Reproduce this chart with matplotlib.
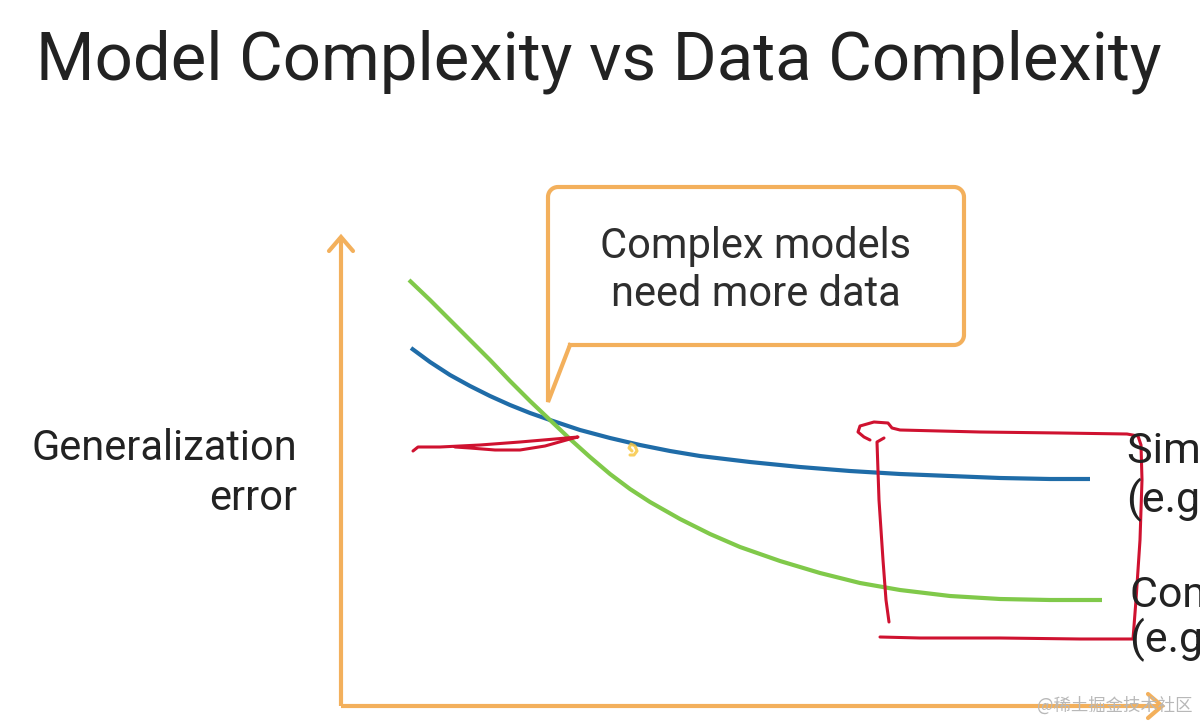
import numpy as np
import matplotlib
matplotlib.use("Agg")
import matplotlib.pyplot as plt

# ---- data (pixel-like units, y grows downward) ----
blue_x = [411, 430, 450, 470, 490, 510, 530, 550, 580, 610, 640, 670, 700, 750, 800, 850, 900, 950, 1000, 1050, 1090]
blue_y = [348, 362, 375, 386, 396, 405, 413, 420, 430, 438, 445, 451, 456, 462, 467, 471, 474, 476, 478, 479, 479]
green_x = [409, 430, 450, 470, 490, 510, 530, 550, 570, 590, 610, 630, 650, 680, 710, 740, 780, 820, 860, 900, 950, 1000, 1050, 1102]
green_y = [280, 300, 320, 340, 360, 381, 401, 420, 439, 457, 474, 489, 502, 519, 534, 547, 561, 573, 583, 590, 596, 599, 600, 600]

red_stroke_x = [413, 418, 440, 480, 520, 555, 578, 570, 545, 520, 495, 470, 455]
red_stroke_y = [451, 447, 447, 445, 442, 439, 437, 439, 446, 450, 450, 448, 447]
red_box_x = [880, 920, 1000, 1080, 1133, 1136, 1140, 1142, 1141, 1138, 1127, 1060, 980, 900, 892, 888, 874, 860, 858, 864, 870]
red_box_y = [637, 638, 638, 639, 639, 600, 540, 480, 445, 436, 434, 433, 432, 430, 428, 423, 422, 426, 432, 437, 440]
red_bar_x = [884, 877, 879, 883, 886, 889]
red_bar_y = [438, 442, 500, 560, 600, 622]
yellow_x = [630, 634, 637, 635, 631, 629, 632]
yellow_y = [455, 455, 451, 446, 444, 448, 451]

title = "Model Complexity vs Data Complexity"
ylabel_lines = ["Generalization", "error"]
callout_lines = ["Complex models", "need more data"]
simple_lines = ["Simple model", "(e.g. linear)"]
complex_lines = ["Complex model", "(e.g. MLP)"]
watermark = "@稀土掘金技术社区"

ORANGE = "#F3B05C"
BLUE = "#1F6CA8"
GREEN = "#80C94A"
RED = "#CF1230"
TXT = "#222222"

fig = plt.figure(figsize=(12, 7.21), dpi=100)
ax = fig.add_axes([0, 0, 1, 1])
ax.set_xlim(0, 1200)
ax.set_ylim(721, 0)
ax.axis("off")

FONT = "Roboto"

# title
ax.text(36, 79, title, fontsize=48.3, family=FONT, color=TXT, va="baseline", ha="left")

# axes (orange arrows)
lw_ax = 3.0
ax.plot([341, 341], [706, 237], color=ORANGE, lw=lw_ax, solid_capstyle="butt")
ax.plot([341, 1162], [706, 706], color=ORANGE, lw=lw_ax, solid_capstyle="butt")
ax.plot([329, 341, 353], [251, 237, 251], color=ORANGE, lw=lw_ax, solid_joinstyle="miter", solid_capstyle="round")
ax.plot([1148, 1162, 1148], [694, 706, 718], color=ORANGE, lw=lw_ax, solid_joinstyle="miter", solid_capstyle="round")

# y label
ax.text(297, 460, ylabel_lines[0], fontsize=29.9, family=FONT, color=TXT, ha="right", va="baseline")
ax.text(297, 510, ylabel_lines[1], fontsize=29.9, family=FONT, color=TXT, ha="right", va="baseline")

# callout bubble
def arc(cx, cy, r, a0, a1, n=12):
    t = np.radians(np.linspace(a0, a1, n))
    return list(cx + r * np.cos(t)), list(cy + r * np.sin(t))

L, T, R, B, rad = 548, 187, 964, 345, 10
px, py = [570, R - rad], [B, B]
ax_, ay_ = arc(R - rad, B - rad, rad, 90, 0); px += ax_; py += ay_
ax_, ay_ = arc(R - rad, T + rad, rad, 0, -90); px += ax_; py += ay_
ax_, ay_ = arc(L + rad, T + rad, rad, -90, -180); px += ax_; py += ay_
px += [L, 570]; py += [402, B]
ax.plot(px, py, color=ORANGE, lw=3.0, solid_joinstyle="miter")
ax.text(756, 258, callout_lines[0], fontsize=30.0, family=FONT, color="#2e2e2e", ha="center", va="baseline")
ax.text(756, 306, callout_lines[1], fontsize=30.0, family=FONT, color="#2e2e2e", ha="center", va="baseline")

# curves
ax.plot(blue_x, blue_y, color=BLUE, lw=3.0, solid_capstyle="butt", solid_joinstyle="round")
ax.plot(green_x, green_y, color=GREEN, lw=3.0, solid_capstyle="butt", solid_joinstyle="round")

# right labels (cut by the slide edge, as in the reference)
ax.text(1127, 463, simple_lines[0], fontsize=31, family=FONT, color=TXT, ha="left", va="baseline")
ax.text(1127, 512, simple_lines[1], fontsize=31, family=FONT, color=TXT, ha="left", va="baseline")
ax.text(1130, 607, complex_lines[0], fontsize=31, family=FONT, color=TXT, ha="left", va="baseline")
ax.text(1130, 652, complex_lines[1], fontsize=31, family=FONT, color=TXT, ha="left", va="baseline")

# hand-drawn annotations
ax.plot(red_stroke_x, red_stroke_y, color=RED, lw=2.2, solid_capstyle="round", solid_joinstyle="round")
ax.plot(red_box_x, red_box_y, color=RED, lw=2.2, solid_capstyle="round", solid_joinstyle="round")
ax.plot(red_bar_x, red_bar_y, color=RED, lw=2.2, solid_capstyle="round", solid_joinstyle="round")
ax.plot(yellow_x, yellow_y, color="#F7C744", lw=2.2, alpha=0.85, solid_capstyle="round")

# watermark
ax.text(1193, 706, watermark, fontsize=12.5, family=["Noto Sans CJK SC", "DejaVu Sans"],
        color="#b8b8b8", ha="right", va="center")

fig.savefig("out.png", dpi=100, facecolor="white")
